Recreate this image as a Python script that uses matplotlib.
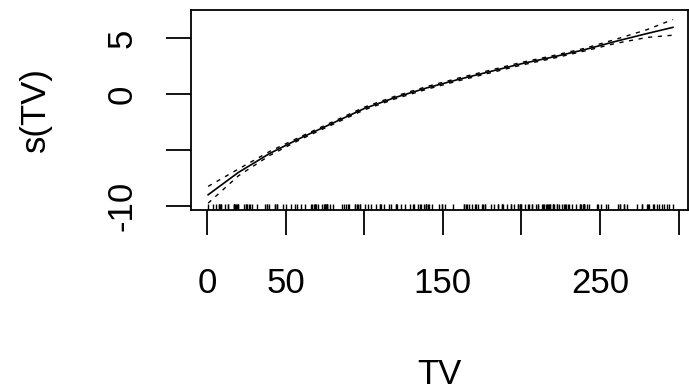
import numpy as np
import matplotlib
matplotlib.use("Agg")
import matplotlib.pyplot as plt
import matplotlib.transforms as mtransforms

# smooth term s(TV), with its +-2se band half-width
tv_grid = [0.7, 20, 40, 60, 80, 100, 120, 140, 160, 180, 200, 220, 240, 260, 280, 296.4]
fit = [-9.0, -7.0, -5.3, -3.9, -2.6, -1.3, -0.3, 0.55, 1.3, 2.0, 2.7, 3.3, 3.95, 4.7, 5.4, 5.95]
se = [0.75, 0.3, 0.18, 0.12, 0.12, 0.12, 0.12, 0.12, 0.12, 0.12, 0.12, 0.12, 0.12, 0.18, 0.35, 0.7]

# TV values for the rug
tv_obs = [230.1, 44.5, 17.2, 151.5, 180.8, 8.7, 57.5, 120.2, 8.6, 199.8, 66.1, 214.7,
          23.8, 97.5, 204.1, 195.4, 67.8, 281.4, 69.2, 147.3, 218.4, 237.4, 13.2, 228.3,
          62.3, 262.9, 142.9, 240.1, 248.8, 70.6, 292.9, 112.9, 97.2, 265.6, 95.7, 290.7,
          266.9, 74.7, 43.1, 228.0, 202.5, 177.0, 293.6, 206.9, 25.1, 175.1, 89.7, 239.9,
          227.2, 66.9, 199.8, 100.4, 216.4, 182.6, 262.7, 198.9, 7.3, 136.2, 210.8, 210.7,
          53.5, 261.3, 239.3, 102.7, 131.1, 69.0, 31.5, 139.3, 237.4, 216.8, 199.1, 109.8,
          26.8, 129.4, 213.4, 16.9, 27.5, 120.5, 5.4, 116.0, 76.4, 239.8, 75.3, 68.4,
          213.5, 193.2, 76.3, 110.7, 88.3, 109.8, 134.3, 28.6, 217.7, 250.9, 107.4, 163.3,
          197.6, 184.9, 289.7, 135.2, 222.4, 296.4, 280.2, 187.9, 238.2, 137.9, 25.0, 90.4,
          13.1, 255.4, 225.8, 241.7, 175.7, 209.6, 78.2, 75.1, 139.2, 76.4, 125.7, 19.4,
          141.3, 18.8, 224.0, 123.1, 229.5, 87.2, 7.8, 80.2, 220.3, 59.6, 0.7, 265.2,
          8.4, 219.8, 36.9, 48.3, 25.6, 273.7, 43.0, 184.9, 73.4, 193.7, 220.5, 104.6,
          96.2, 140.3, 240.1, 243.2, 38.0, 44.7, 280.7, 121.0, 197.6, 171.3, 187.8, 4.1,
          93.9, 149.8, 11.7, 131.7, 172.5, 85.7, 188.4, 163.5, 117.2, 234.5, 17.9, 206.8,
          215.4, 284.3, 50.0, 164.5, 19.6, 168.4, 222.4, 276.9, 248.4, 170.2, 276.7, 165.6,
          156.6, 218.5, 56.2, 287.6, 253.8, 205.0, 139.5, 191.1, 286.0, 18.7, 39.5, 75.5,
          17.2, 166.8, 149.7, 38.2, 94.2, 177.0, 283.6, 232.1]

xticks = [0, 50, 100, 150, 200, 250, 300]
xticklabels = ['0', '50', '', '150', '', '250', '']
yticks = [-10, -5, 0, 5]
yticklabels = ['-10', '', '0', '5']

plt.rcParams['font.family'] = ['Liberation Sans', 'DejaVu Sans']

fig = plt.figure(figsize=(6.89, 3.92), dpi=100)
ax = fig.add_axes([191 / 689, 1 - 210 / 392, 497 / 689, 200 / 392])

x = np.array(tv_grid)
f = np.array(fit)
s = np.array(se)
ax.plot(x, f, color='black', lw=1.2)
ax.plot(x, f + s, color='black', lw=1.0, dashes=(3, 4))
ax.plot(x, f - s, color='black', lw=1.0, dashes=(3, 4))

# rug along the bottom
trans = mtransforms.blended_transform_factory(ax.transData, ax.transAxes)
ax.vlines(tv_obs, 0, 0.03, transform=trans, color='black', lw=1.0)

ax.set_xlim(-10.2, 306)
ax.set_ylim(-10.36, 7.5)

ax.set_xticks(xticks)
ax.set_xticklabels(xticklabels)
ax.set_yticks(yticks)
ax.set_yticklabels(yticklabels, rotation=90, va='center')

ax.tick_params(axis='both', direction='out', length=18, width=1.3, labelsize=25)
ax.tick_params(axis='x', pad=23)
ax.tick_params(axis='y', pad=20)
for sp in ax.spines.values():
    sp.set_linewidth(1.3)

ax.set_xlabel('TV', fontsize=25, labelpad=42)
ax.set_ylabel('s(TV)', fontsize=25, labelpad=38)

fig.savefig('out.png', dpi=100)
